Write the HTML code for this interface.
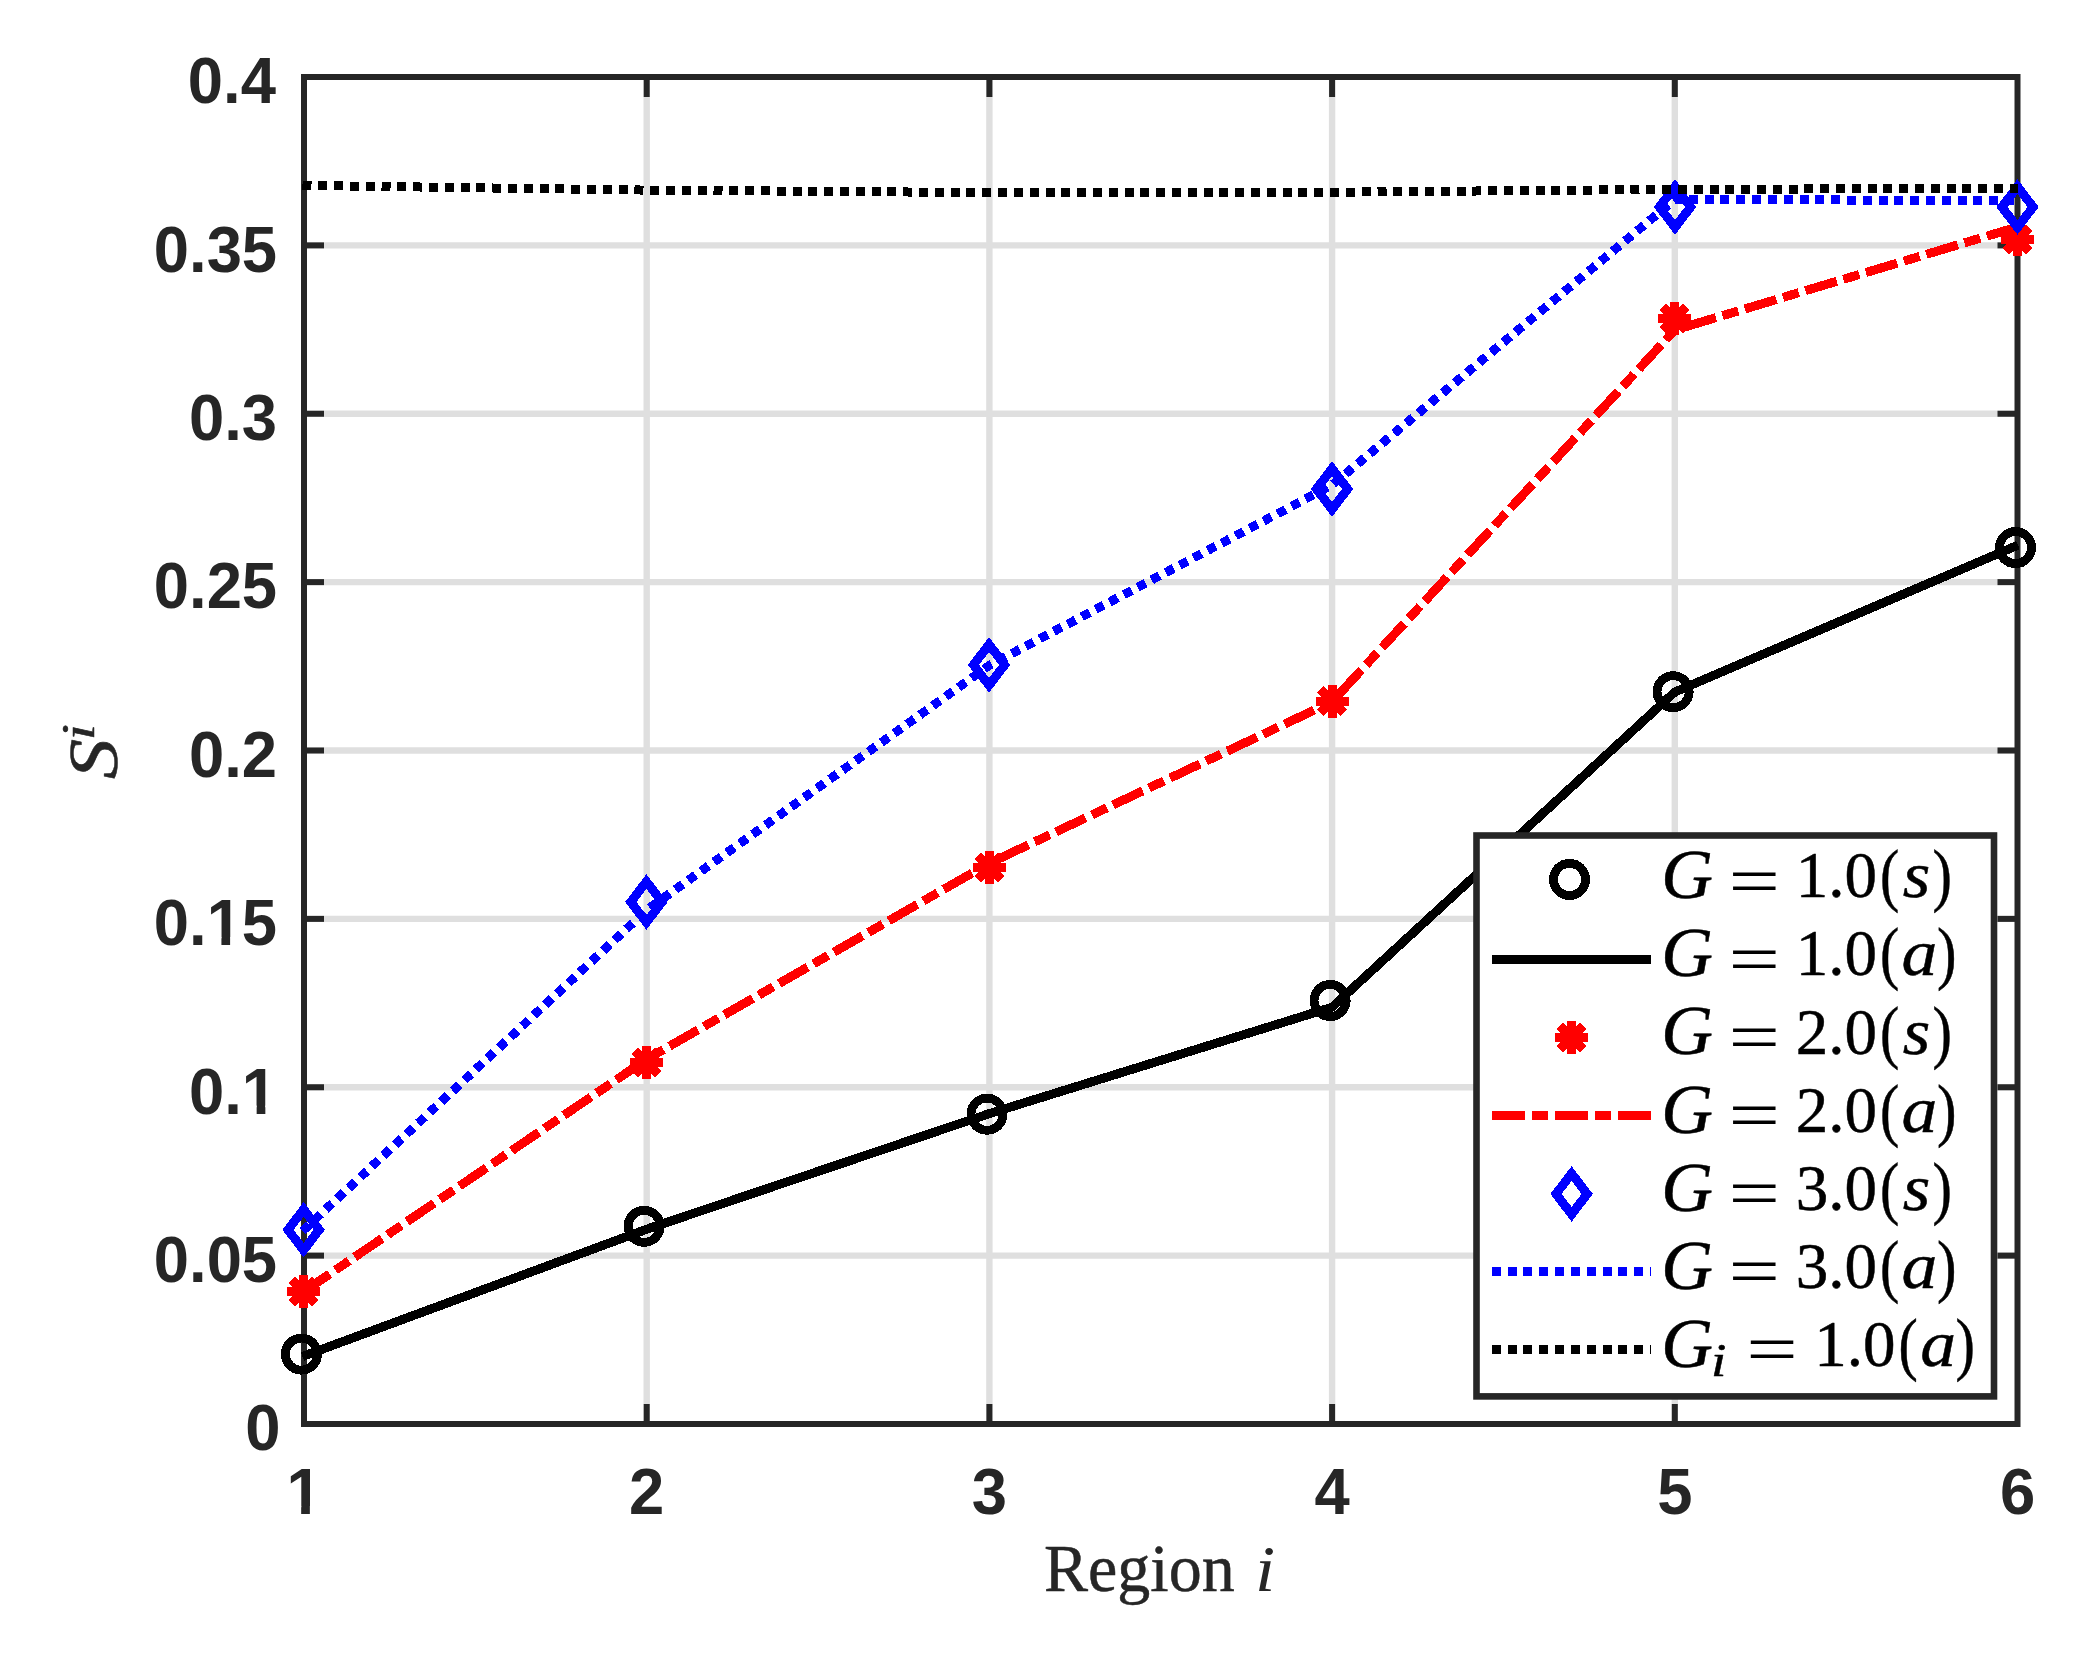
<!DOCTYPE html>
<html lang="en"><head><meta charset="utf-8"><title>Figure</title>
<style>html,body{margin:0;padding:0;background:#fff;}svg{display:block;}.tk{font-family:"Liberation Sans",sans-serif;font-weight:bold;font-size:64px;fill:#262626;}.rm{font-family:"Liberation Serif",serif;font-size:65px;}.it{font-family:"Liberation Serif",serif;font-size:65px;font-style:italic;}</style></head><body>
<svg width="2078" height="1658" viewBox="0 0 2078 1658">
<rect x="0" y="0" width="2078" height="1658" fill="#ffffff"/>
<g stroke="#dfdfdf" stroke-width="6.4" fill="none">
<line x1="646.70" y1="77.00" x2="646.70" y2="1424.00"/>
<line x1="989.40" y1="77.00" x2="989.40" y2="1424.00"/>
<line x1="1332.10" y1="77.00" x2="1332.10" y2="1424.00"/>
<line x1="1674.80" y1="77.00" x2="1674.80" y2="1424.00"/>
<line x1="304.00" y1="1255.62" x2="2017.50" y2="1255.62"/>
<line x1="304.00" y1="1087.25" x2="2017.50" y2="1087.25"/>
<line x1="304.00" y1="918.88" x2="2017.50" y2="918.88"/>
<line x1="304.00" y1="750.50" x2="2017.50" y2="750.50"/>
<line x1="304.00" y1="582.12" x2="2017.50" y2="582.12"/>
<line x1="304.00" y1="413.75" x2="2017.50" y2="413.75"/>
<line x1="304.00" y1="245.38" x2="2017.50" y2="245.38"/>
</g>
<g stroke="#262626" stroke-width="6.0" fill="none" stroke-linecap="butt">
<rect x="304.00" y="77.00" width="1713.50" height="1347.00"/>
<line x1="646.70" y1="1424.00" x2="646.70" y2="1404.00"/>
<line x1="646.70" y1="77.00" x2="646.70" y2="97.00"/>
<line x1="989.40" y1="1424.00" x2="989.40" y2="1404.00"/>
<line x1="989.40" y1="77.00" x2="989.40" y2="97.00"/>
<line x1="1332.10" y1="1424.00" x2="1332.10" y2="1404.00"/>
<line x1="1332.10" y1="77.00" x2="1332.10" y2="97.00"/>
<line x1="1674.80" y1="1424.00" x2="1674.80" y2="1404.00"/>
<line x1="1674.80" y1="77.00" x2="1674.80" y2="97.00"/>
<line x1="304.00" y1="1255.62" x2="324.00" y2="1255.62"/>
<line x1="2017.50" y1="1255.62" x2="1997.50" y2="1255.62"/>
<line x1="304.00" y1="1087.25" x2="324.00" y2="1087.25"/>
<line x1="2017.50" y1="1087.25" x2="1997.50" y2="1087.25"/>
<line x1="304.00" y1="918.88" x2="324.00" y2="918.88"/>
<line x1="2017.50" y1="918.88" x2="1997.50" y2="918.88"/>
<line x1="304.00" y1="750.50" x2="324.00" y2="750.50"/>
<line x1="2017.50" y1="750.50" x2="1997.50" y2="750.50"/>
<line x1="304.00" y1="582.12" x2="324.00" y2="582.12"/>
<line x1="2017.50" y1="582.12" x2="1997.50" y2="582.12"/>
<line x1="304.00" y1="413.75" x2="324.00" y2="413.75"/>
<line x1="2017.50" y1="413.75" x2="1997.50" y2="413.75"/>
<line x1="304.00" y1="245.38" x2="324.00" y2="245.38"/>
<line x1="2017.50" y1="245.38" x2="1997.50" y2="245.38"/>
</g>
<g shape-rendering="crispEdges">
<circle cx="301.40" cy="1354.10" r="16.05" fill="none" stroke="#000000" stroke-width="8.9"/>
<circle cx="644.10" cy="1226.30" r="16.05" fill="none" stroke="#000000" stroke-width="8.9"/>
<circle cx="987.00" cy="1114.20" r="16.05" fill="none" stroke="#000000" stroke-width="8.9"/>
<circle cx="1330.10" cy="1000.50" r="16.05" fill="none" stroke="#000000" stroke-width="8.9"/>
<circle cx="1673.10" cy="691.70" r="16.05" fill="none" stroke="#000000" stroke-width="8.9"/>
<circle cx="2015.50" cy="547.60" r="16.05" fill="none" stroke="#000000" stroke-width="8.9"/>
<polyline points="302.50,1356.50 646.70,1229.20 989.40,1113.60 1332.10,1007.20 1674.80,692.00 2018.00,545.10" fill="none" stroke="#000000" stroke-width="9.0" stroke-linejoin="miter" stroke-linecap="butt"/>
<path d="M286.80 1291.40H319.80M303.30 1274.90V1307.90M291.63 1279.73L314.97 1303.07M291.63 1303.07L314.97 1279.73" fill="none" stroke="#ff0000" stroke-width="9" stroke-linecap="butt"/>
<path d="M630.00 1062.50H663.00M646.50 1046.00V1079.00M634.83 1050.83L658.17 1074.17M634.83 1074.17L658.17 1050.83" fill="none" stroke="#ff0000" stroke-width="9" stroke-linecap="butt"/>
<path d="M973.00 867.50H1006.00M989.50 851.00V884.00M977.83 855.83L1001.17 879.17M977.83 879.17L1001.17 855.83" fill="none" stroke="#ff0000" stroke-width="9" stroke-linecap="butt"/>
<path d="M1315.50 701.20H1348.50M1332.00 684.70V717.70M1320.33 689.53L1343.67 712.87M1320.33 712.87L1343.67 689.53" fill="none" stroke="#ff0000" stroke-width="9" stroke-linecap="butt"/>
<path d="M1658.00 318.40H1691.00M1674.50 301.90V334.90M1662.83 306.73L1686.17 330.07M1662.83 330.07L1686.17 306.73" fill="none" stroke="#ff0000" stroke-width="9" stroke-linecap="butt"/>
<path d="M2001.00 239.50H2034.00M2017.50 223.00V256.00M2005.83 227.83L2029.17 251.17M2005.83 251.17L2029.17 227.83" fill="none" stroke="#ff0000" stroke-width="9" stroke-linecap="butt"/>
<polyline points="302.50,1292.40 646.70,1059.20 989.40,863.20 1332.10,701.70 1674.80,330.00 2018.00,226.80" fill="none" stroke="#ff0000" stroke-width="9.0" stroke-linejoin="miter" stroke-linecap="butt" stroke-dasharray="32.8 6.9 16.55 6.9"/>
<path d="M303.60 1209.40L319.20 1229.80L303.60 1250.20L288.00 1229.80Z" fill="none" stroke="#0000ff" stroke-width="9" stroke-linejoin="miter" stroke-miterlimit="10"/>
<path d="M646.40 881.60L662.00 902.00L646.40 922.40L630.80 902.00Z" fill="none" stroke="#0000ff" stroke-width="9" stroke-linejoin="miter" stroke-miterlimit="10"/>
<path d="M989.05 644.50L1004.65 664.90L989.05 685.30L973.45 664.90Z" fill="none" stroke="#0000ff" stroke-width="9" stroke-linejoin="miter" stroke-miterlimit="10"/>
<path d="M1332.00 468.60L1347.60 489.00L1332.00 509.40L1316.40 489.00Z" fill="none" stroke="#0000ff" stroke-width="9" stroke-linejoin="miter" stroke-miterlimit="10"/>
<path d="M1675.00 186.60L1690.60 207.00L1675.00 227.40L1659.40 207.00Z" fill="none" stroke="#0000ff" stroke-width="9" stroke-linejoin="miter" stroke-miterlimit="10"/>
<path d="M2017.50 186.60L2033.10 207.00L2017.50 227.40L2001.90 207.00Z" fill="none" stroke="#0000ff" stroke-width="9" stroke-linejoin="miter" stroke-miterlimit="10"/>
<polyline points="302.50,1231.00 646.70,910.00 989.40,665.30 1332.10,485.00 1674.80,199.50 2018.00,200.50" fill="none" stroke="#0000ff" stroke-width="9.0" stroke-linejoin="miter" stroke-linecap="butt" stroke-dasharray="9 6.81"/>
<polyline points="302.50,185.40 646.70,190.10 989.40,192.60 1332.10,192.20 1674.80,189.35 2018.00,188.40" fill="none" stroke="#000000" stroke-width="9.0" stroke-linejoin="miter" stroke-linecap="butt" stroke-dasharray="9 6.81"/>
</g>
<rect x="1476.5" y="835.5" width="517.50" height="560.90" fill="#ffffff" stroke="#262626" stroke-width="6.6"/>
<g shape-rendering="crispEdges">
<circle cx="1569.50" cy="879.40" r="16.05" fill="none" stroke="#000000" stroke-width="8.9"/>
<line x1="1491.85" y1="959.5" x2="1651.1" y2="959.5" stroke="#000000" stroke-width="9.0"/>
<path d="M1555.00 1037.40H1588.00M1571.50 1020.90V1053.90M1559.83 1025.73L1583.17 1049.07M1559.83 1049.07L1583.17 1025.73" fill="none" stroke="#ff0000" stroke-width="9" stroke-linecap="butt"/>
<line x1="1491.85" y1="1115.6" x2="1651.1" y2="1115.6" stroke="#ff0000" stroke-width="9.0" stroke-dasharray="32.8 6.9 16.55 6.9"/>
<path d="M1571.60 1173.50L1587.20 1193.90L1571.60 1214.30L1556.00 1193.90Z" fill="none" stroke="#0000ff" stroke-width="9" stroke-linejoin="miter" stroke-miterlimit="10"/>
<line x1="1491.85" y1="1271.5" x2="1651.1" y2="1271.5" stroke="#0000ff" stroke-width="9.0" stroke-dasharray="9 6.81"/>
<line x1="1491.85" y1="1349.5" x2="1651.1" y2="1349.5" stroke="#000000" stroke-width="9.0" stroke-dasharray="9 6.81"/>
</g>
<g fill="#000000" stroke="#000000" stroke-width="0.5" stroke-linejoin="round">
<g><text class="it" transform="translate(1661.20 898.05) scale(1.1 1.058)">G</text> <text stroke="none" class="rm" transform="translate(1728.60 904.50) scale(1.406 1.07)">=</text> <text class="rm" transform="translate(1795.70 897.20) scale(1.0 1.0)">1.0</text><text class="rm" transform="translate(1880.00 898.20) scale(0.89 1.088)">(</text><text class="it" transform="translate(1902.80 897.20) scale(1.09 1.0)">s</text><text class="rm" transform="translate(1932.40 898.20) scale(0.9 1.088)">)</text></g>
<g><text class="it" transform="translate(1661.20 976.20) scale(1.1 1.058)">G</text> <text stroke="none" class="rm" transform="translate(1728.60 982.65) scale(1.406 1.07)">=</text> <text class="rm" transform="translate(1795.70 975.35) scale(1.0 1.0)">1.0</text><text class="rm" transform="translate(1880.00 976.35) scale(0.89 1.088)">(</text><text class="it" transform="translate(1901.60 975.35) scale(1.1 1.0)">a</text><text class="rm" transform="translate(1937.00 976.35) scale(0.9 1.088)">)</text></g>
<g><text class="it" transform="translate(1661.20 1054.35) scale(1.1 1.058)">G</text> <text stroke="none" class="rm" transform="translate(1728.60 1060.80) scale(1.406 1.07)">=</text> <text class="rm" transform="translate(1795.70 1053.50) scale(1.0 1.0)">2.0</text><text class="rm" transform="translate(1880.00 1054.50) scale(0.89 1.088)">(</text><text class="it" transform="translate(1902.80 1053.50) scale(1.09 1.0)">s</text><text class="rm" transform="translate(1932.40 1054.50) scale(0.9 1.088)">)</text></g>
<g><text class="it" transform="translate(1661.20 1132.50) scale(1.1 1.058)">G</text> <text stroke="none" class="rm" transform="translate(1728.60 1138.95) scale(1.406 1.07)">=</text> <text class="rm" transform="translate(1795.70 1131.65) scale(1.0 1.0)">2.0</text><text class="rm" transform="translate(1880.00 1132.65) scale(0.89 1.088)">(</text><text class="it" transform="translate(1901.60 1131.65) scale(1.1 1.0)">a</text><text class="rm" transform="translate(1937.00 1132.65) scale(0.9 1.088)">)</text></g>
<g><text class="it" transform="translate(1661.20 1210.65) scale(1.1 1.058)">G</text> <text stroke="none" class="rm" transform="translate(1728.60 1217.10) scale(1.406 1.07)">=</text> <text class="rm" transform="translate(1795.70 1209.80) scale(1.0 1.0)">3.0</text><text class="rm" transform="translate(1880.00 1210.80) scale(0.89 1.088)">(</text><text class="it" transform="translate(1902.80 1209.80) scale(1.09 1.0)">s</text><text class="rm" transform="translate(1932.40 1210.80) scale(0.9 1.088)">)</text></g>
<g><text class="it" transform="translate(1661.20 1288.80) scale(1.1 1.058)">G</text> <text stroke="none" class="rm" transform="translate(1728.60 1295.25) scale(1.406 1.07)">=</text> <text class="rm" transform="translate(1795.70 1287.95) scale(1.0 1.0)">3.0</text><text class="rm" transform="translate(1880.00 1288.95) scale(0.89 1.088)">(</text><text class="it" transform="translate(1901.60 1287.95) scale(1.1 1.0)">a</text><text class="rm" transform="translate(1937.00 1288.95) scale(0.9 1.088)">)</text></g>
<g><text class="it" transform="translate(1661.20 1366.95) scale(1.1 1.058)">G</text><text class="it" transform="translate(1710.90 1375.70) scale(1.2 1.0)" style="font-size:46px">i</text> <text stroke="none" class="rm" transform="translate(1746.20 1373.40) scale(1.406 1.07)">=</text> <text class="rm" transform="translate(1814.30 1366.10) scale(1.0 1.0)">1.0</text><text class="rm" transform="translate(1898.60 1367.10) scale(0.89 1.088)">(</text><text class="it" transform="translate(1920.20 1366.10) scale(1.1 1.0)">a</text><text class="rm" transform="translate(1955.60 1367.10) scale(0.9 1.088)">)</text></g>
</g>
<text class="tk" transform="translate(280.4 1450.2) scale(0.99 1.02)" text-anchor="end">0</text>
<text class="tk" transform="translate(277.1 1281.8) scale(0.99 1.02)" text-anchor="end">0.05</text>
<text class="tk" transform="translate(277.1 1113.5) scale(0.99 1.02)" text-anchor="end">0.1</text>
<text class="tk" transform="translate(277.1 945.1) scale(0.99 1.02)" text-anchor="end">0.15</text>
<text class="tk" transform="translate(277.1 776.7) scale(0.99 1.02)" text-anchor="end">0.2</text>
<text class="tk" transform="translate(277.1 608.3) scale(0.99 1.02)" text-anchor="end">0.25</text>
<text class="tk" transform="translate(277.1 439.9) scale(0.99 1.02)" text-anchor="end">0.3</text>
<text class="tk" transform="translate(277.1 271.6) scale(0.99 1.02)" text-anchor="end">0.35</text>
<text class="tk" transform="translate(275.9 103.2) scale(0.99 1.02)" text-anchor="end">0.4</text>
<text class="tk" transform="translate(304.0 1513.9) scale(0.99 1.02)" text-anchor="middle">1</text>
<text class="tk" transform="translate(646.7 1513.9) scale(0.99 1.02)" text-anchor="middle">2</text>
<text class="tk" transform="translate(989.4 1513.9) scale(0.99 1.02)" text-anchor="middle">3</text>
<text class="tk" transform="translate(1332.1 1513.9) scale(0.99 1.02)" text-anchor="middle">4</text>
<text class="tk" transform="translate(1674.8 1513.9) scale(0.99 1.02)" text-anchor="middle">5</text>
<text class="tk" transform="translate(2017.5 1513.9) scale(0.99 1.02)" text-anchor="middle">6</text>
<rect x="244.85" y="1105.55" width="11.80" height="8.90" fill="#ffffff"/>
<rect x="265.34" y="1105.55" width="10.99" height="8.90" fill="#ffffff"/>
<rect x="209.62" y="937.18" width="11.80" height="8.90" fill="#ffffff"/>
<rect x="230.11" y="937.18" width="10.99" height="8.90" fill="#ffffff"/>
<rect x="289.37" y="1506.00" width="11.80" height="8.90" fill="#ffffff"/>
<rect x="309.86" y="1506.00" width="10.99" height="8.90" fill="#ffffff"/>
<g fill="#262626" stroke="#262626" stroke-width="0.5" stroke-linejoin="round">
<g><text class="rm" transform="translate(1044.00 1591.00) scale(1.0 1.02)" style="font-size:66px">Region</text> <text stroke="none" class="it" transform="translate(1255.00 1591.00) scale(1.1 1.0)" style="font-size:66px">i</text></g>
<g transform="translate(116.5 779) rotate(-90)"><text class="it" transform="translate(-0.20 0.00) scale(1.225 1.06)" style="font-size:66px">S</text><text class="it" transform="translate(38.80 -23.00) scale(1.27 1.0)" style="font-size:46px">i</text></g>
</g>
</svg>
</body></html>
